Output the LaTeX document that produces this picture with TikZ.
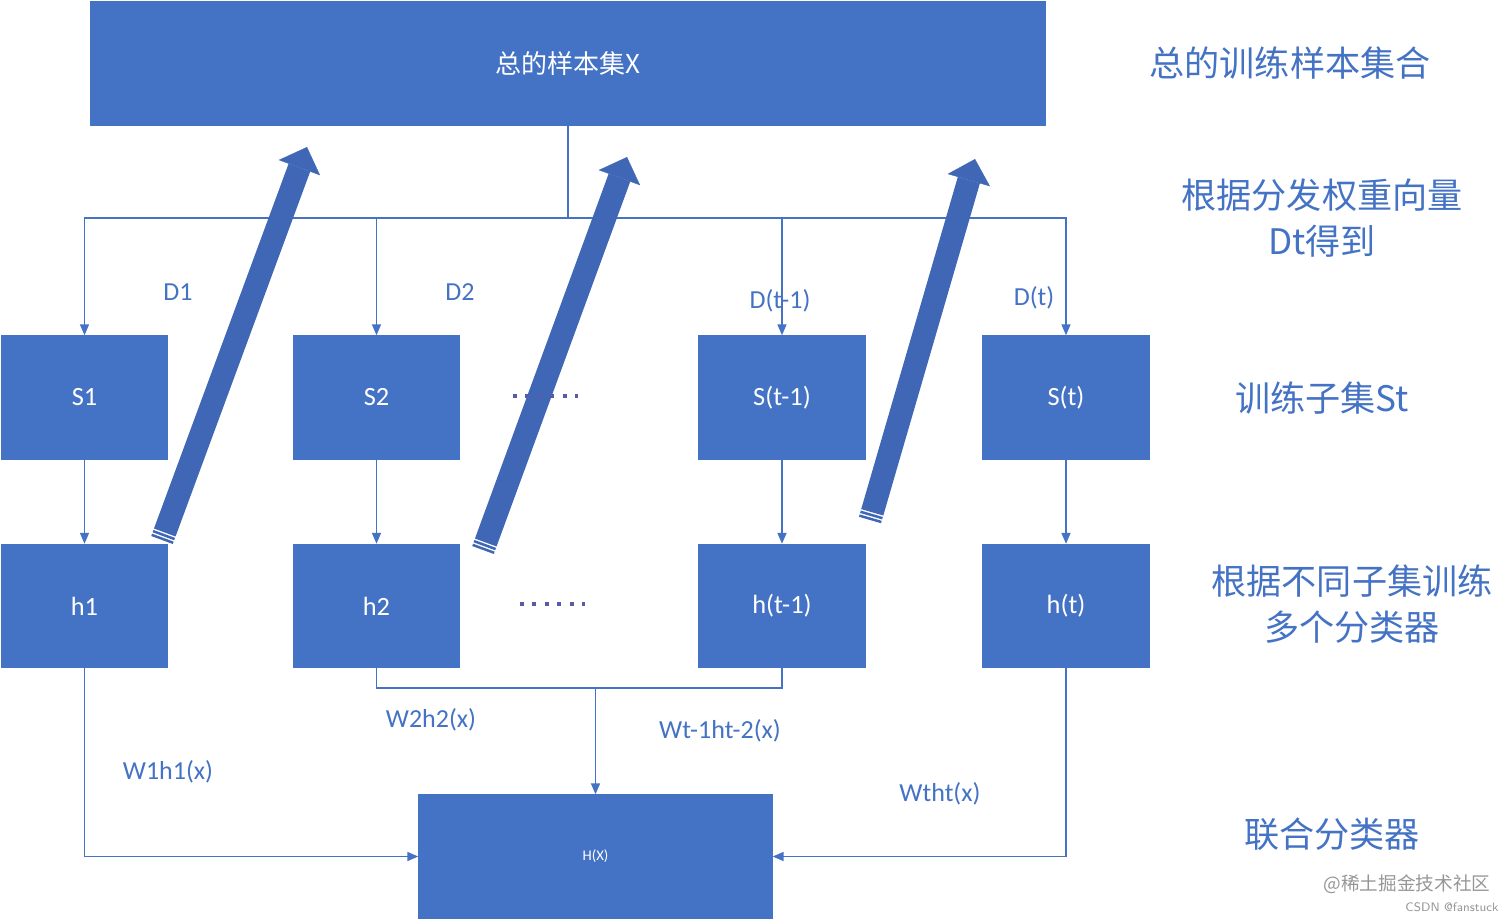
\documentclass[tikz,border=0pt]{standalone}
\usepackage{fontspec}
\setmainfont{Carlito}
\newfontfamily\cjk{Noto Sans CJK SC}
\usetikzlibrary{arrows.meta, calc}
\definecolor{boxblue}{RGB}{68, 114, 196}
\definecolor{fatblue}{RGB}{63, 103, 182}
\definecolor{dotblue}{RGB}{88, 92, 168}
\definecolor{markgray}{RGB}{150, 150, 150}

\begin{document}
\begin{tikzpicture}[
    box/.style={draw=boxblue, fill=boxblue, text=white, minimum width=1.66cm, minimum height=1.23cm, inner sep=0pt, font=\fontsize{7.5}{9}\selectfont},
    link/.style={draw=boxblue, line width=0.45pt, -{Triangle[length=0.11cm, width=0.09cm]}},
    plain/.style={draw=boxblue, line width=0.45pt},
    fat/.style={fatblue, line width=0.23cm},
    dotrow/.style={dotblue, line width=0.04cm, dash pattern=on 0.04cm off 0.084cm},
    lbl/.style={text=boxblue, font=\fontsize{7.4}{9}\selectfont},
    side/.style={text=boxblue, align=center, font=\cjk\fontsize{10}{13}\selectfont}]
  \useasboundingbox (0,0) rectangle (15.12,-9.2);

  % sample set and subsets
  \node[box, minimum width=9.54cm, font=\cjk\fontsize{7.4}{9}\selectfont] (top) at (5.68,-0.635) {总的样本集X};
  \node[box] (S1)  at (0.845,-3.975) {S1};
  \node[box] (S2)  at (3.765,-3.975) {S2};
  \node[box] (St1) at (7.82,-3.975)  {S(t-1)};
  \node[box] (St)  at (10.66,-3.975) {S(t)};

  % classifiers
  \node[box] (h1)  at (0.845,-6.06) {h1};
  \node[box] (h2)  at (3.765,-6.06) {h2};
  \node[box] (ht1) at (7.82,-6.06)  {h(t-1)};
  \node[box] (ht)  at (10.66,-6.06) {h(t)};
  \node[box, minimum width=3.53cm, font=\fontsize{4.2}{5}\selectfont] (H) at (5.955,-8.565) {H(X)};

  % weighted sampling
  \coordinate (split) at (5.68,-2.18);
  \foreach \b in {S1,S2,St1,St}
    \draw[link] (top.south) |- (split -| \b.north) -- (\b.north);
  \node[lbl] (d1)  at (1.78,-2.92)  {D1};
  \node[lbl] (d2)  at (4.60,-2.92)  {D2};
  \node[lbl] (d3)  at (7.80,-3.01)  {D(t-1)};
  \node[lbl] (d4)  at (10.34,-2.98) {D(t)};

  % training
  \foreach \s/\h in {S1/h1,S2/h2,St1/ht1,St/ht}
    \draw[link] (\s) -- (\h);

  % combination
  \draw[link] (h1.south) |- (H.west);
  \draw[link] (ht.south) |- (H.east);
  \draw[plain] (h2.south) -- ++(0,-0.2) coordinate (m2) -| (ht1.south);
  \coordinate (merge) at (H.north |- m2);
  \draw[link] (merge) -- (H.north);
  \node[lbl] (w1) at (1.68,-7.72) {W1h1(x)};
  \node[lbl] (w2) at (4.31,-7.20) {W2h2(x)};
  \node[lbl] (w3) at (7.20,-7.31) {Wt-1ht-2(x)};
  \node[lbl] (w4) at (9.40,-7.94) {Wtht(x)};

  % weight updates
  \coordinate (f1a) at (1.62,-5.40); \coordinate (f1b) at (3.07,-1.47);
  \coordinate (f2a) at (4.83,-5.50); \coordinate (f2b) at (6.27,-1.57);
  \coordinate (f3a) at (8.70,-5.20); \coordinate (f3b) at (9.75,-1.59);
  \foreach \i in {1,2,3} {
    \draw[fat, -{Triangle[length=0.22cm, width=0.44cm, line width=0.1pt]}]
      ($(f\i a)!0.08cm!(f\i b)$) -- (f\i b);
    \draw[fat] (f\i a) -- ($(f\i a)!0.025cm!(f\i b)$);
    \draw[fat] ($(f\i a)!0.04cm!(f\i b)$) -- ($(f\i a)!0.065cm!(f\i b)$);
  }

  % omitted rounds
  \coordinate (r1a) at (5.13,-3.96); \coordinate (r1b) at (5.78,-3.96);
  \coordinate (r2a) at (5.20,-6.04); \coordinate (r2b) at (5.85,-6.04);
  \draw[dotrow] (r1a) -- (r1b);
  \draw[dotrow] (r2a) -- (r2b);

  % stage notes
  \node[side] (n1) at (12.90,-0.63) {总的训练样本集合};
  \node[side] (n2) at (13.22,-2.18) {根据分发权重向量\\Dt得到};
  \node[side] (n3) at (13.22,-3.98) {训练子集St};
  \node[side] (n4) at (13.52,-6.04) {根据不同子集训练\\多个分类器};
  \node[side] (n5) at (13.32,-8.34) {联合分类器};

  \node[text=markgray, font=\cjk\fontsize{5.3}{6}\selectfont] (wm1) at (14.07,-8.84) {@稀土掘金技术社区};
  \node[text=markgray, font=\sffamily\fontsize{3.5}{4}\selectfont] (wm2) at (14.52,-9.07) {CSDN @fanstuck};
\end{tikzpicture}
\end{document}
